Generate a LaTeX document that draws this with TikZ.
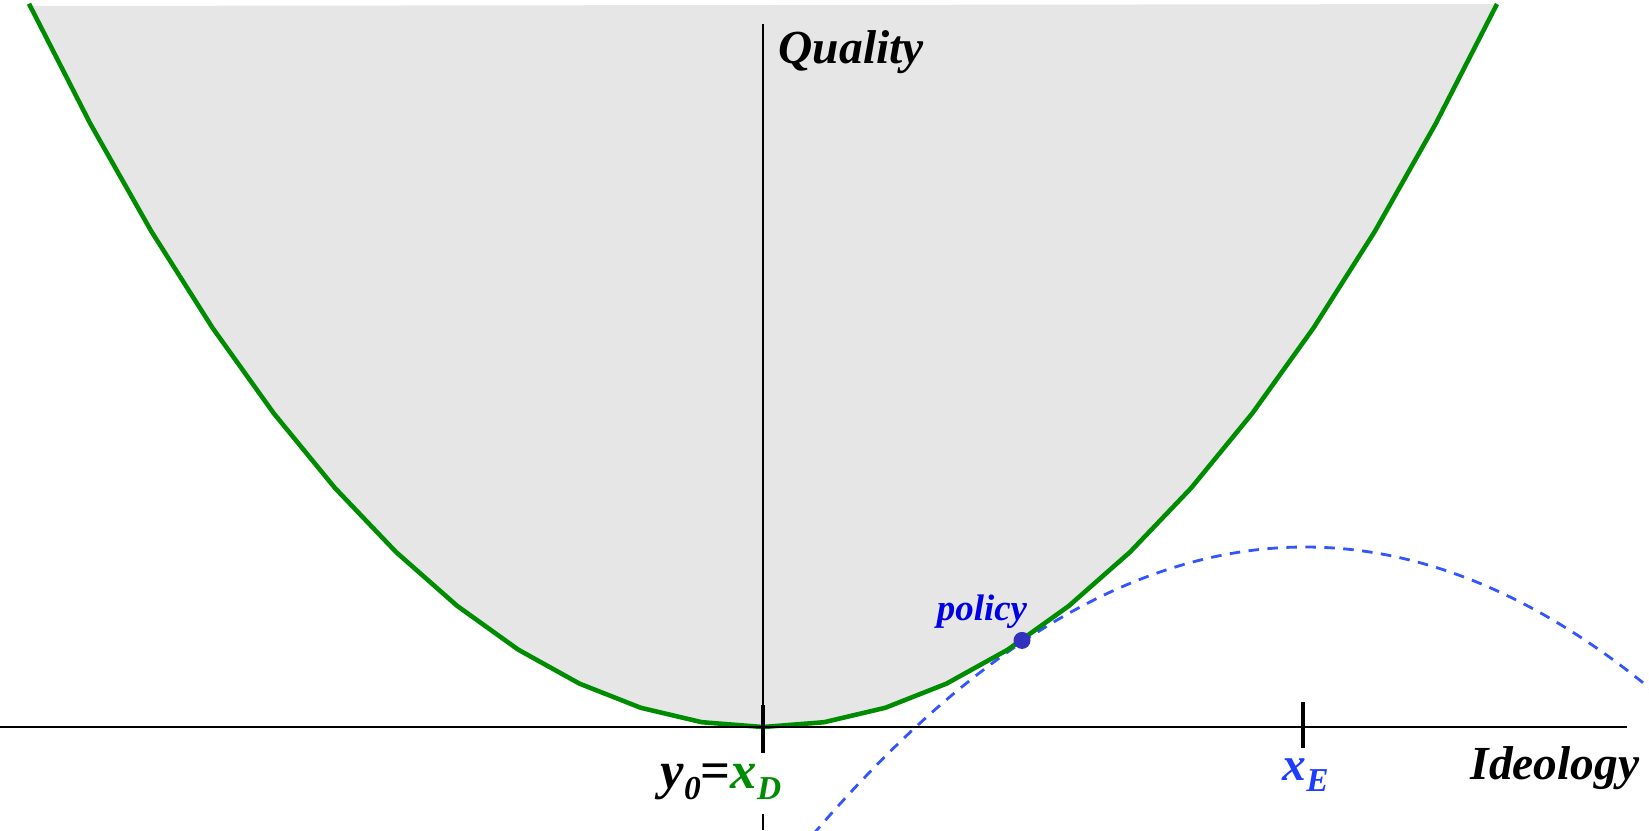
\documentclass[tikz,border=0pt]{standalone}
\usepackage{fontspec}
\setmainfont{Liberation Serif}
\definecolor{qualfill}{RGB}{230,230,230}
\definecolor{dgreen}{RGB}{0,140,0}
\definecolor{dashblue}{RGB}{51,85,255}
\definecolor{xeblue}{RGB}{30,60,255}
\definecolor{policyblue}{RGB}{0,0,230}
\definecolor{dotblue}{RGB}{50,50,190}
\newcommand{\lowidx}[1]{\raisebox{-3.4pt}{\fontsize{9.5}{9.5}\selectfont #1}}

\begin{document}
\begin{tikzpicture}[x=1cm, y=1cm,
  axisline/.style={black, line width=0.6pt},
  tickmark/.style={black, line width=1.2pt},
  frontier/.style={dgreen, line width=1.3pt, line join=round},
  votercurve/.style={dashblue, line width=0.8pt, dash pattern=on 3pt off 2.4pt},
  labeltext/.style={inner sep=0pt, font=\fontsize{13.5}{14}\selectfont\bfseries\itshape}]
\useasboundingbox (-7.63,-1.03) rectangle (8.86,7.27);
\fill[qualfill] (-7.34,7.21) -- plot[domain=-7.34:7.34, samples=25] (\x,{0.1285*\x*\x+0.0001*\x*\x*\x*\x}) -- cycle;
\draw[votercurve] plot[domain=0.5:8.9, samples=60, smooth] (\x,{1.80-0.1188*(\x-5.42)*(\x-5.42)});
\draw[frontier] plot[domain=-7.34:7.34, samples=25] (\x,{0.1285*\x*\x+0.0001*\x*\x*\x*\x});
\draw[axisline] (-7.63,0) -- (8.64,0);
\draw[axisline] (0,-1.03) -- (0,7.03);
\node[labeltext, font=\fontsize{15}{16}\selectfont\bfseries\itshape, anchor=base west, fill=white, inner xsep=1pt, inner ysep=4pt] (xd) at (-1.065,-0.61) {y\lowidx{0}{\upshape =}\textcolor{dgreen}{x\lowidx{D}}};
\draw[tickmark] (0,0.22) -- (0,-0.26);
\draw[tickmark] (5.40,0.25) -- (5.40,-0.21);
\node[labeltext, anchor=base west] (quality) at (0.15,6.64) {Quality};
\node[labeltext, anchor=base east] (ideology) at (8.77,-0.52) {Ideology};
\node[labeltext, anchor=base west, text=xeblue] (xe) at (5.19,-0.53) {x\lowidx{E}};
\node[circle, fill=dotblue, inner sep=0pt, minimum size=0.17cm] (policydot) at (2.59,0.866) {};
\node[anchor=base, inner sep=0pt, text=policyblue, font=\fontsize{10.5}{11}\selectfont\bfseries\itshape] (policy) at (2.19,1.07) {policy};
\end{tikzpicture}
\end{document}
